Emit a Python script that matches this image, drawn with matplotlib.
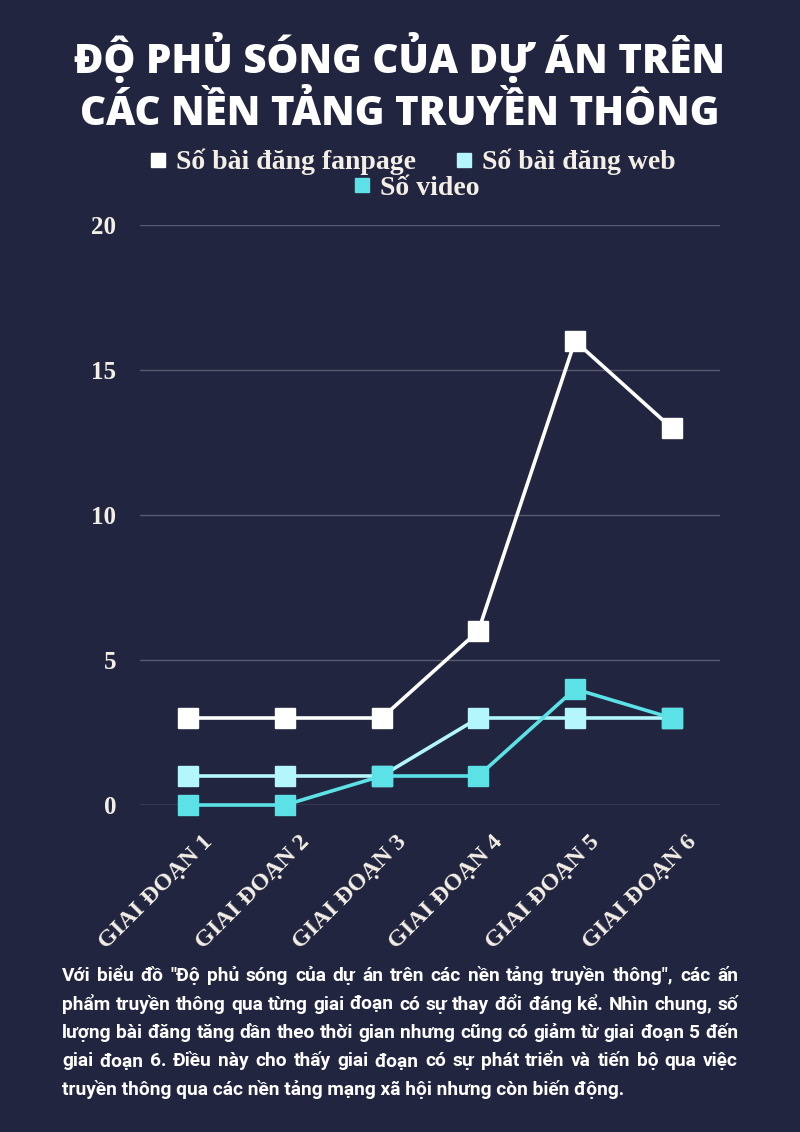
import matplotlib
matplotlib.use("Agg")
import matplotlib.pyplot as plt
from matplotlib.lines import Line2D
from matplotlib.transforms import ScaledTranslation

W, H = 800, 1132
bg = "#22253f"
ivory = "#f3efe6"
grid_col = "#585b70"

categories = ["GIAI ĐOẠN 1", "GIAI ĐOẠN 2", "GIAI ĐOẠN 3",
              "GIAI ĐOẠN 4", "GIAI ĐOẠN 5", "GIAI ĐOẠN 6"]
fanpage = [3, 3, 3, 6, 16, 13]
web = [1, 1, 1, 3, 3, 3]
video = [0, 0, 1, 1, 4, 3]
series_names = ["Số bài đăng fanpage", "Số bài đăng web", "Số video"]
series_colors = ["#ffffff", "#b3f6fb", "#5ce1e6"]
yticks = [0, 5, 10, 15, 20]

title_lines = ["ĐỘ PHỦ SÓNG CỦA DỰ ÁN TRÊN", "CÁC NỀN TẢNG TRUYỀN THÔNG"]
body_lines = [
    'Với biểu đồ "Độ phủ sóng của dự án trên các nền tảng truyền thông", các ấn',
    "phẩm truyền thông qua từng giai đoạn có sự thay đổi đáng kể. Nhìn chung, số",
    "lượng bài đăng tăng dần theo thời gian nhưng cũng có giảm từ giai đoạn 5 đến",
    "giai đoạn 6. Điều này cho thấy giai đoạn có sự phát triển và tiến bộ qua việc",
    "truyền thông qua các nền tảng mạng xã hội nhưng còn biến động.",
]

serif = dict(family="Liberation Serif", weight="bold")

fig = plt.figure(figsize=(W / 100, H / 100), dpi=100, facecolor=bg)
ax = fig.add_axes([140 / W, 1 - 805 / H, 580 / W, 580 / H])
ax.set_facecolor(bg)

x = list(range(len(categories)))
for vals, c in zip([fanpage, web, video], series_colors):
    ax.plot(x, vals, color=c, lw=2.6, marker="s", ms=14, clip_on=False, zorder=3)

ax.set_xlim(-0.5, 5.5)
ax.set_ylim(0, 20)
ax.set_yticks(yticks)
ax.yaxis.grid(True, color=grid_col, lw=1)
ax.set_axisbelow(True)
gl = ax.yaxis.get_gridlines()
gl[0].set_color("#8a8c9b")
for s in ax.spines.values():
    s.set_visible(False)
ax.tick_params(length=0)
ax.tick_params(axis="y", pad=17)
ax.tick_params(axis="x", pad=0)
ax.set_yticklabels([str(v) for v in yticks], color=ivory, fontsize=18, **serif)
ax.set_xticks(x)
ax.set_xticklabels(categories, rotation=45, ha="right", va="top",
                   rotation_mode="anchor", color=ivory, fontsize=17.5, **serif)
offset = ScaledTranslation(14 / 100, -26 / 100, fig.dpi_scale_trans)
for lab in ax.get_xticklabels():
    lab.set_transform(lab.get_transform() + offset)

# legend, two rows centred
handles = [Line2D([], [], ls="", marker="s", ms=10, color=c) for c in series_colors]
leg_kw = dict(loc="center", frameon=False, labelcolor=ivory,
              prop=dict(size=20, **serif), handletextpad=0.3,
              handlelength=0.7, columnspacing=1.4, borderaxespad=0)
fig.legend(handles[:2], series_names[:2], ncol=2,
           bbox_to_anchor=(412 / W, 1 - 162 / H), **leg_kw)
fig.legend(handles[2:], series_names[2:], ncol=1,
           bbox_to_anchor=(416 / W, 1 - 188 / H), **leg_kw)

# title
for i, line in enumerate(title_lines):
    fig.text(0.5, 1 - (73 + 52 * i) / H, line, ha="center", va="baseline",
             color="white", fontsize=29, family="Open Sans", weight="heavy")

# justified paragraph
body_kw = dict(color="white", fontsize=13.8, family="Roboto", weight="bold")
r = fig.canvas.get_renderer()
x0, x1 = 62, 738
for i, line in enumerate(body_lines):
    yb = 1 - (981 + 28.5 * i) / H
    if i == len(body_lines) - 1:
        fig.text(x0 / W, yb, line, ha="left", va="baseline", **body_kw)
        continue
    words = line.split()
    widths = []
    for w in words:
        t = fig.text(0, 0, w, **body_kw)
        widths.append(t.get_window_extent(r).width)
        t.remove()
    gap = (x1 - x0 - sum(widths)) / (len(words) - 1)
    xp = x0
    for w, wd in zip(words, widths):
        fig.text(xp / W, yb, w, ha="left", va="baseline", **body_kw)
        xp += wd + gap

fig.savefig("out.png", dpi=100, facecolor=bg)
